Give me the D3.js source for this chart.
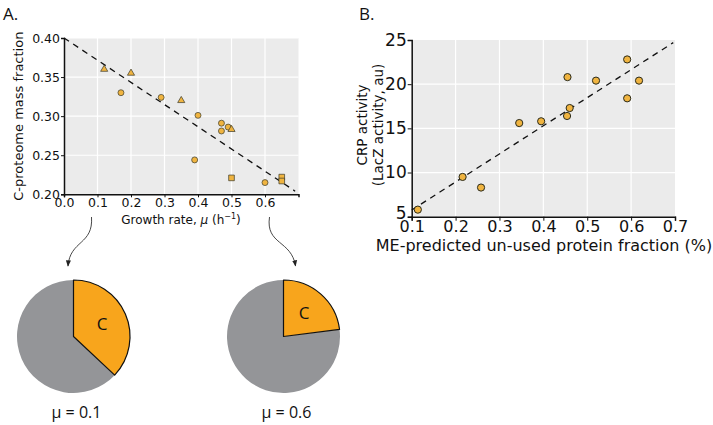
<!DOCTYPE html>
<html>
<head>
<meta charset="utf-8">
<script src="https://cdn.jsdelivr.net/npm/d3@7"></script>
<style>
  body { margin: 0; background: #fff; }
  svg text { font-family: "DejaVu Sans", sans-serif; fill: #111; }
</style>
</head>
<body>
<svg id="chart"></svg>
<script>
const width = 713;
const height = 425;
const svg = d3.select("#chart").attr("width", width).attr("height", height);

// Panel A data
const growthRate = [0.12, 0.20, 0.17, 0.29, 0.35, 0.40, 0.47, 0.47, 0.49, 0.50, 0.39, 0.50, 0.60, 0.65, 0.65];
const cFraction  = [0.360, 0.355, 0.330, 0.324, 0.320, 0.301, 0.291, 0.281, 0.286, 0.283, 0.244, 0.221, 0.215, 0.222, 0.217];
const markerShape = ["tri", "tri", "circ", "circ", "tri", "circ", "circ", "circ", "circ", "tri", "circ", "sq", "circ", "sq", "sq"];
const fitAx = [0, 0.69];
const fitAy = [0.40, 0.204];
const ticksAx = [0.0, 0.1, 0.2, 0.3, 0.4, 0.5, 0.6];
const ticksAy = [0.20, 0.25, 0.30, 0.35, 0.40];

// pies
const pieMu = [0.1, 0.6];
const pieC = [0.37, 0.23];

// Panel B data
const unusedFraction = [0.114, 0.216, 0.258, 0.345, 0.395, 0.455, 0.460, 0.454, 0.520, 0.591, 0.591, 0.618];
const crpActivity    = [5.8, 9.5, 8.3, 15.6, 15.8, 20.8, 17.3, 16.4, 20.4, 22.8, 18.4, 20.4];
const fitBx = [0.1, 0.696];
const fitBy = [5.75, 24.7];
const ticksBx = [0.1, 0.2, 0.3, 0.4, 0.5, 0.6, 0.7];
const ticksBy = [5, 10, 15, 20, 25];

const bg = "#ebebeb";
const pointFill = "#f0b440";
const orange = "#f8a51c";
const grey = "#949598";

// ---------- Panel A ----------
const xA = d3.scaleLinear().domain([0, 0.7]).range([64, 298.5]);
const yA = d3.scaleLinear().domain([0.2, 0.4]).range([194.3, 38]);

svg.append("text").attr("x", 3).attr("y", 20).style("font-family", "'Open Sans', sans-serif").style("font-size", "17px").text("A.");

svg.append("rect").attr("x", xA(0)).attr("y", yA(0.4)).attr("width", xA(0.7) - xA(0)).attr("height", yA(0.2) - yA(0.4)).attr("fill", bg);
svg.selectAll(".gridAx").data(ticksAx.slice(1)).enter().append("line").attr("class", "gridAx")
  .attr("x1", d => xA(d)).attr("x2", d => xA(d)).attr("y1", yA(0.4)).attr("y2", yA(0.2)).attr("stroke", "#fff").attr("stroke-width", 1.2);
svg.selectAll(".gridAy").data(ticksAy.slice(1)).enter().append("line").attr("class", "gridAy")
  .attr("x1", xA(0)).attr("x2", xA(0.7)).attr("y1", d => yA(d)).attr("y2", d => yA(d)).attr("stroke", "#fff").attr("stroke-width", 1.2);

svg.append("path")
  .attr("d", d3.line()(fitAx.map((v, i) => [xA(v), yA(fitAy[i])])))
  .attr("stroke", "#111").attr("stroke-width", 1.3).attr("stroke-dasharray", "6,5").attr("fill", "none");

const axA_x = svg.append("g").attr("transform", `translate(0,${yA(0.2)})`)
  .call(d3.axisBottom(xA).tickValues(ticksAx).tickFormat(d3.format(".1f")).tickSizeOuter(0).tickSize(3).tickPadding(1));
const axA_y = svg.append("g").attr("transform", `translate(${xA(0)},0)`)
  .call(d3.axisLeft(yA).tickValues(ticksAy).tickFormat(d3.format(".2f")).tickSizeOuter(0).tickSize(3).tickPadding(1));
[axA_x, axA_y].forEach(g => {
  g.select(".domain").attr("stroke", "#111").attr("stroke-width", 1.5);
  g.selectAll(".tick line").attr("stroke", "#111");
  g.selectAll("text").style("font-size", "12.5px").attr("fill", "#111");
});

const symType = { tri: d3.symbolTriangle, circ: d3.symbolCircle, sq: d3.symbolSquare };
const symSize = { tri: 22, circ: 28, sq: 32 };
svg.selectAll(".ptA").data(growthRate).enter().append("path").attr("class", "ptA")
  .attr("transform", (d, i) => `translate(${xA(d)},${yA(cFraction[i])})`)
  .attr("d", (d, i) => d3.symbol().type(symType[markerShape[i]]).size(symSize[markerShape[i]])())
  .attr("fill", pointFill).attr("stroke", "#3a3a2a").attr("stroke-width", 0.7);

svg.append("text").attr("transform", `translate(23,${(yA(0.2) + yA(0.4)) / 2}) rotate(-90)`)
  .attr("text-anchor", "middle").style("font-size", "13px").text("C-proteome mass fraction");
svg.append("text").attr("x", 181).attr("y", 224).attr("text-anchor", "middle").style("font-size", "12px")
  .text("Growth rate, ")
  .call(t => t.append("tspan").style("font-style", "italic").text("μ"))
  .call(t => t.append("tspan").text(" (h"))
  .call(t => t.append("tspan").attr("dy", -5).style("font-size", "8px").text("−1"))
  .call(t => t.append("tspan").attr("dy", 5).text(")"));

// ---------- pies ----------
const pieR = 56.5;
const pieCy = 336.5;
const pieCx = [73.5, 283.5];

svg.append("defs").append("marker").attr("id", "head").attr("viewBox", "0 0 10 10")
  .attr("refX", 9).attr("refY", 5).attr("markerWidth", 7).attr("markerHeight", 7).attr("orient", "auto")
  .append("path").attr("d", "M0,1 L10,5 L0,9 Z").attr("fill", "#222");

const arrowDx = [[-6, -5.5], [4.5, 12]];
pieMu.forEach((mu, k) => {
  const sx = xA(mu) + arrowDx[k][0];
  const ex = pieCx[k] + arrowDx[k][1];
  const sy = 217, ey = 266;
  const p = d3.path();
  p.moveTo(sx, sy);
  p.bezierCurveTo(sx + (k === 0 ? 2 : -4), sy + 28, ex + (k === 0 ? 2 : -4), ey - 26, ex, ey);
  svg.append("path").attr("d", p.toString()).attr("fill", "none").attr("stroke", "#333").attr("stroke-width", 0.9)
    .attr("marker-end", "url(#head)");
});

const pie = d3.pie().sort(null);
const arc = d3.arc().innerRadius(0).outerRadius(pieR);
const labelArc = d3.arc().innerRadius(pieR * 0.55).outerRadius(pieR * 0.55);
pieC.forEach((c, k) => {
  const g = svg.append("g").attr("transform", `translate(${pieCx[k]},${pieCy})`);
  const slices = pie([c, 1 - c]);
  g.append("path").attr("d", arc(slices[1])).attr("fill", grey);
  g.append("path").attr("d", arc(slices[0])).attr("fill", orange).attr("stroke", "#111").attr("stroke-width", 1.2).attr("stroke-linejoin", "round");
  const [lx, ly] = labelArc.centroid(slices[0]);
  g.append("text").attr("x", lx).attr("y", ly + 6).attr("text-anchor", "middle")
    .style("font-family", "'Open Sans', sans-serif").style("font-size", "17px").text("C");
  svg.append("text").attr("x", pieCx[k] + 3).attr("y", 418).attr("text-anchor", "middle")
    .style("font-family", "'Open Sans', sans-serif").style("font-size", "16px").text(`μ = ${pieMu[k]}`);
});

// ---------- Panel B ----------
const xB = d3.scaleLinear().domain([0.1, 0.7]).range([411.7, 675]);
const yB = d3.scaleLinear().domain([5, 25]).range([216.7, 40]);

svg.append("text").attr("x", 359).attr("y", 20).style("font-family", "'Open Sans', sans-serif").style("font-size", "17px").text("B.");

svg.append("rect").attr("x", xB(0.1)).attr("y", yB(25)).attr("width", xB(0.7) - xB(0.1)).attr("height", yB(5) - yB(25)).attr("fill", bg);
svg.selectAll(".gridBx").data(ticksBx.slice(1, -1)).enter().append("line").attr("class", "gridBx")
  .attr("x1", d => xB(d)).attr("x2", d => xB(d)).attr("y1", yB(25)).attr("y2", yB(5)).attr("stroke", "#fff").attr("stroke-width", 1.2);
svg.selectAll(".gridBy").data(ticksBy.slice(1, -1)).enter().append("line").attr("class", "gridBy")
  .attr("x1", xB(0.1)).attr("x2", xB(0.7)).attr("y1", d => yB(d)).attr("y2", d => yB(d)).attr("stroke", "#fff").attr("stroke-width", 1.2);

svg.append("path")
  .attr("d", d3.line()(fitBx.map((v, i) => [xB(v), yB(fitBy[i])])))
  .attr("stroke", "#111").attr("stroke-width", 1.3).attr("stroke-dasharray", "6,5").attr("fill", "none");

const axB_x = svg.append("g").attr("transform", `translate(0,${yB(5)})`)
  .call(d3.axisBottom(xB).tickValues(ticksBx).tickFormat(d3.format(".1f")).tickSizeOuter(0).tickSize(4).tickPadding(0));
const axB_y = svg.append("g").attr("transform", `translate(${xB(0.1)},0)`)
  .call(d3.axisLeft(yB).tickValues(ticksBy).tickSizeOuter(0).tickSize(4).tickPadding(1));
[axB_x, axB_y].forEach(g => {
  g.select(".domain").attr("stroke", "#111").attr("stroke-width", 1.5);
  g.selectAll(".tick line").attr("stroke", "#111");
  g.selectAll("text").attr("fill", "#111");
});
axB_x.selectAll("text").style("font-size", "16px");
axB_y.selectAll("text").style("font-size", "17px");
// lowest y label sits just above the x tick labels
axB_y.selectAll(".tick text").filter(d => d === 5).attr("dy", "0.1em");

svg.selectAll(".ptB").data(unusedFraction).enter().append("circle").attr("class", "ptB")
  .attr("cx", d => xB(d)).attr("cy", (d, i) => yB(crpActivity[i])).attr("r", 3.6)
  .attr("fill", pointFill).attr("stroke", "#2a2a1a").attr("stroke-width", 1);

const yLabB = svg.append("text").attr("transform", `translate(383,125) rotate(-90)`)
  .attr("text-anchor", "middle").style("font-size", "13.5px");
yLabB.append("tspan").attr("x", 0).attr("dy", "-1.15em").text("CRP activity");
yLabB.append("tspan").attr("x", 0).attr("dy", "1.15em").text("(LacZ activity, au)");

svg.append("text").attr("x", 544).attr("y", 251).attr("text-anchor", "middle").style("font-size", "16px")
  .text("ME-predicted un-used protein fraction (%)");
</script>
</body>
</html>
